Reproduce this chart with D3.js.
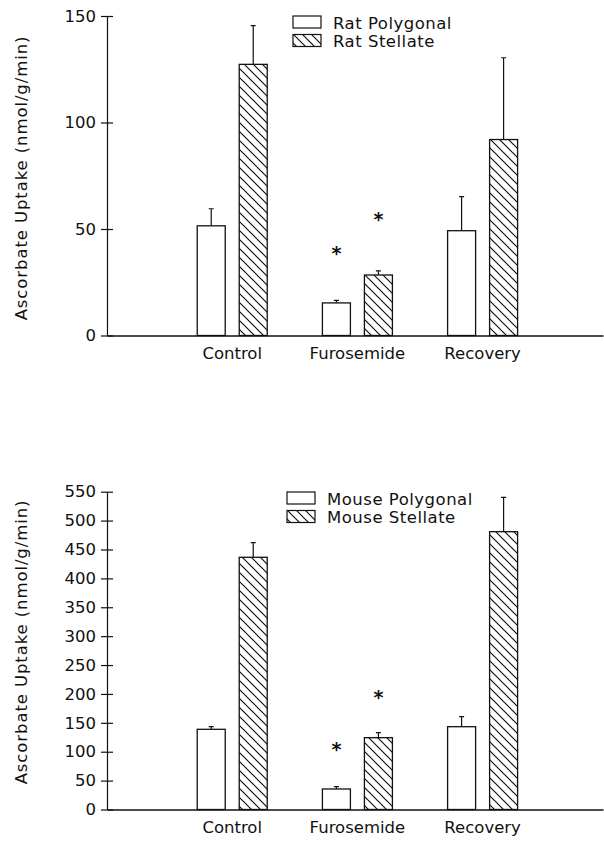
<!DOCTYPE html>
<html>
<head>
<meta charset="utf-8">
<script src="https://cdn.jsdelivr.net/npm/d3@7"></script>
<style>
  html, body { margin: 0; padding: 0; background: #fff; }
  text { font-family: "DejaVu Sans", sans-serif; fill: #111; }
</style>
</head>
<body>
<div id="chart"></div>
<script>
// categories and values
const categories = ['Control', 'Furosemide', 'Recovery'];

const ratPolygonal = [51.5, 15.3, 49.2];
const ratPolygonalErr = [8, 1.2, 16];
const ratStellate = [127.3, 28.4, 92];
const ratStellateErr = [18.2, 1.9, 38.4];
const ratStarPolygonal = [null, 40.6, null];
const ratStarStellate = [null, 56.8, null];
const ratTicks = [0, 50, 100, 150];

const mousePolygonal = [138.8, 35.5, 143.3];
const mousePolygonalErr = [4.5, 4, 17.3];
const mouseStellate = [436.5, 124.3, 480.8];
const mouseStellateErr = [25.3, 8.7, 59.5];
const mouseStarPolygonal = [null, 111.6, null];
const mouseStarStellate = [null, 202, null];
const mouseTicks = [0, 50, 100, 150, 200, 250, 300, 350, 400, 450, 500, 550];

const W = 604, H = 841;
const fontSize = 16.5;

const svg = d3.select('#chart')
    .append('svg')
    .attr('width', W)
    .attr('height', H);

// hatch pattern for stellate bars
const s = 9;
svg.append('defs')
    .append('pattern')
    .attr('id', 'hatch')
    .attr('patternUnits', 'userSpaceOnUse')
    .attr('width', s)
    .attr('height', s)
    .append('path')
    .attr('d', `M-1,-1L${s + 1},${s + 1}M${s - 1},-1L${s + 1},1M-1,${s - 1}L1,${s + 1}`)
    .attr('stroke', '#111')
    .attr('stroke-width', 1.2);

function drawPanel(opts) {
    const g = svg.append('g');

    const y = d3.scaleLinear()
        .domain([0, opts.ticks[opts.ticks.length - 1]])
        .range([opts.y0, opts.yTop]);

    const x = d3.scaleBand()
        .domain(categories)
        .range([107, 603])
        .paddingInner(0)
        .paddingOuter(0.481)
        .align(0.52);

    const sub = d3.scaleBand()
        .domain([0, 1])
        .range([-35, 35])
        .paddingInner(1 / 3);

    // y axis, ticks cross the axis line
    g.append('g')
        .attr('transform', 'translate(107,0)')
        .call(d3.axisLeft(y).tickValues(opts.ticks).tickSize(6).tickSizeOuter(0).tickPadding(5))
        .call(a => a.selectAll('.tick line').attr('x1', 6).attr('stroke', '#111').attr('stroke-width', 1.2))
        .call(a => a.select('.domain').attr('stroke', '#111').attr('stroke-width', 1.2))
        .call(a => a.selectAll('.tick text')
            .style('font-family', '"DejaVu Sans", sans-serif')
            .style('font-size', fontSize + 'px')
            .attr('fill', '#111'));

    // y label
    g.append('text')
        .attr('transform', `translate(27,${opts.labelY}) rotate(-90)`)
        .attr('text-anchor', 'middle')
        .style('font-size', fontSize + 'px')
        .style('letter-spacing', '0.9px')
        .text('Ascorbate Uptake (nmol/g/min)');

    const series = [
        {vals: opts.poly, err: opts.polyErr, stars: opts.starPoly, fill: '#fff'},
        {vals: opts.stell, err: opts.stellErr, stars: opts.starStell, fill: 'url(#hatch)'}
    ];

    series.forEach((sr, si) => {
        const bx = i => x(categories[i]) + x.bandwidth() / 2 + sub(si);
        const cx = i => bx(i) + sub.bandwidth() / 2;

        // error bars (upper only)
        g.selectAll(null)
            .data(sr.vals)
            .enter()
            .append('path')
            .attr('d', (d, i) => `M${cx(i)},${y(d)}V${y(d + sr.err[i])}M${cx(i) - 2.5},${y(d + sr.err[i])}H${cx(i) + 2.5}`)
            .attr('stroke', '#111')
            .attr('stroke-width', 1.2)
            .attr('fill', 'none');

        g.selectAll(null)
            .data(sr.vals)
            .enter()
            .append('rect')
            .attr('x', (d, i) => bx(i))
            .attr('y', d => y(d))
            .attr('width', sub.bandwidth())
            .attr('height', d => y(0) - y(d))
            .attr('fill', sr.fill)
            .attr('stroke', '#111')
            .attr('stroke-width', 1.3);

        // significance stars
        g.selectAll(null)
            .data(sr.stars.map((v, i) => ({v, i})).filter(d => d.v !== null))
            .enter()
            .append('text')
            .attr('x', d => cx(d.i))
            .attr('y', d => y(d.v) + 11)
            .attr('text-anchor', 'middle')
            .style('font-size', '19px')
            .style('font-weight', 'bold')
            .text('*');
    });

    // baseline and category labels
    g.append('g')
        .attr('transform', `translate(0,${y(0)})`)
        .call(d3.axisBottom(x).tickSize(0).tickSizeOuter(0).tickPadding(12))
        .call(a => a.select('.domain').attr('stroke', '#111').attr('stroke-width', 1.3))
        .call(a => a.selectAll('.tick text')
            .style('font-family', '"DejaVu Sans", sans-serif')
            .style('font-size', fontSize + 'px')
            .attr('fill', '#111'));

    // legend
    const leg = g.append('g').attr('transform', `translate(${opts.legX},${opts.legY})`);
    opts.legend.forEach((name, i) => {
        leg.append('rect')
            .attr('x', 0)
            .attr('y', i * 18.5)
            .attr('width', 28)
            .attr('height', 12)
            .attr('fill', i === 0 ? '#fff' : 'url(#hatch)')
            .attr('stroke', '#111')
            .attr('stroke-width', 1.2);
        leg.append('text')
            .attr('x', 40)
            .attr('y', i * 18.5 + 12.5)
            .style('font-size', fontSize + 'px')
            .style('letter-spacing', '0.5px')
            .text(name);
    });
}

drawPanel({
    ticks: ratTicks, y0: 335.5, yTop: 16, labelY: 178,
    poly: ratPolygonal, polyErr: ratPolygonalErr,
    stell: ratStellate, stellErr: ratStellateErr,
    starPoly: ratStarPolygonal, starStell: ratStarStellate,
    legend: ['Rat Polygonal', 'Rat Stellate'], legX: 293, legY: 16
});

drawPanel({
    ticks: mouseTicks, y0: 809.5, yTop: 491.7, labelY: 642,
    poly: mousePolygonal, polyErr: mousePolygonalErr,
    stell: mouseStellate, stellErr: mouseStellateErr,
    starPoly: mouseStarPolygonal, starStell: mouseStarStellate,
    legend: ['Mouse Polygonal', 'Mouse Stellate'], legX: 287, legY: 492
});
</script>
</body>
</html>
